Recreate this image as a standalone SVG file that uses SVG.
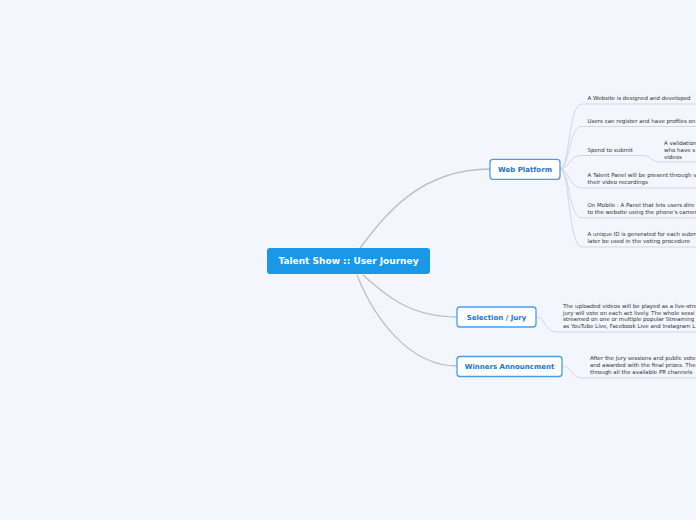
<svg xmlns="http://www.w3.org/2000/svg" width="696" height="520" viewBox="0 0 696 520">
<style>
.bg{fill:#f4f6fd}
.main{fill:none;stroke:#bcbec6;stroke-width:1.3}
.leafline{fill:none;stroke:#d3d7e2;stroke-width:1}
.root rect{fill:#1b97e8}
.root text{font-family:"DejaVu Sans",sans-serif;font-weight:bold;font-size:9px;fill:#ffffff;text-anchor:middle}
.sub rect{fill:#ffffff;stroke:#4a9cec;stroke-width:1.3}
.sub text{font-family:"DejaVu Sans",sans-serif;font-weight:bold;font-size:7px;fill:#1a72d6;text-anchor:middle}
.leaf text{font-family:"DejaVu Sans",sans-serif;font-size:5.5px;fill:#333333}
</style>
<rect class="bg" x="0" y="0" width="696" height="520"/>
<g id="connectors">
<path class="main" d="M360,248 C385,215 420,169 490,169"/>
<path class="main" d="M363,275 C385,295 410,317 457,317"/>
<path class="main" d="M357,275 C375,320 410,366 457,366"/>
<path class="leafline" d="M560,169 C570,169 568,104 582,104 H696"/>
<path class="leafline" d="M560,169 C570,169 568,126.5 582,126.5 H696"/>
<path class="leafline" d="M560,169 C570,169 568,155.5 582,155.5 H643 C652,155.5 650,162 662,162 H696"/>
<path class="leafline" d="M560,169 C570,169 568,188 582,188 H696"/>
<path class="leafline" d="M560,169 C570,169 568,218 582,218 H696"/>
<path class="leafline" d="M560,169 C570,169 568,247 582,247 H696"/>
<path class="leafline" d="M536,317 C546,317 544,332 557,332 H696"/>
<path class="leafline" d="M562,366 C572,366 570,378 583,378 H696"/>
</g>
<g id="root" class="root">
<rect x="267" y="248" width="163" height="26" rx="3"/>
<text x="348.5" y="264.2">Talent Show :: User Journey</text>
</g>
<g id="web-platform" class="sub">
<rect x="490" y="159.3" width="70" height="20" rx="3"/>
<text x="525" y="171.8">Web Platform</text>
</g>
<g id="selection-jury" class="sub">
<rect x="457" y="307" width="79" height="20" rx="3"/>
<text x="496.5" y="319.5">Selection / Jury</text>
</g>
<g id="winners" class="sub">
<rect x="457" y="356.5" width="105" height="20" rx="3"/>
<text x="509.5" y="369">Winners Announcment</text>
</g>
<g id="leaf-website" class="leaf"><text x="587.5" y="100">A Website is designed and developed</text></g>
<g id="leaf-register" class="leaf"><text x="587.5" y="123">Users can register and have profiles on</text></g>
<g id="leaf-spend" class="leaf"><text x="587.5" y="152">Spend to submit</text></g>
<g id="leaf-validation" class="leaf">
<text x="664" y="145">A validation</text>
<text x="664" y="152">who have s</text>
<text x="664" y="158.5">videos</text>
</g>
<g id="leaf-talent" class="leaf">
<text x="587.5" y="177">A Talent Panel will be present through v</text>
<text x="587.5" y="184">their video recordings</text>
</g>
<g id="leaf-mobile" class="leaf">
<text x="587.5" y="207">On Mobile : A Panel that lets users dire</text>
<text x="587.5" y="214">to the website using the phone's camer</text>
</g>
<g id="leaf-id" class="leaf">
<text x="587.5" y="236">A unique ID is generated for each subm</text>
<text x="587.5" y="243">later be used in the voting procedure</text>
</g>
<g id="leaf-selection" class="leaf">
<text x="563" y="308">The uploaded videos will be played as a live-stre</text>
<text x="563" y="314.7">jury will vote on each act lively. The whole sessi</text>
<text x="563" y="321.4">streamed on one or multiple popular Streaming</text>
<text x="563" y="328.1">as YouTube Live, Facebook Live and Instagram L</text>
</g>
<g id="leaf-winners" class="leaf">
<text x="590" y="360">After the Jury sessions and public vote</text>
<text x="590" y="367">and awarded with the final prizes. The</text>
<text x="590" y="374">through all the available PR channels</text>
</g>
</svg>
